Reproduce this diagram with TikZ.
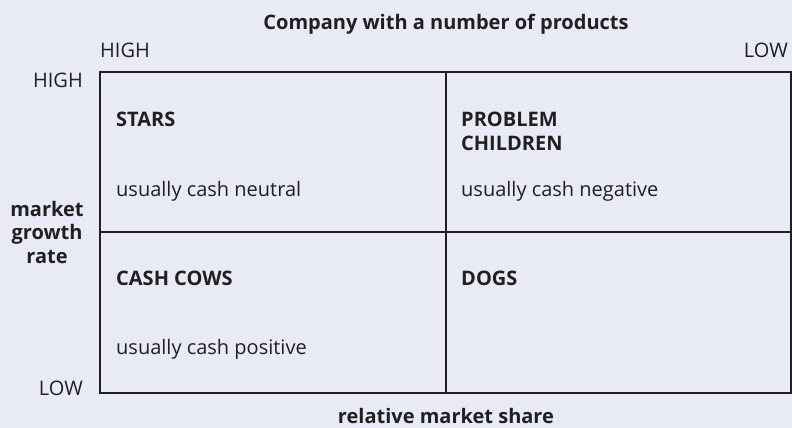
\documentclass[tikz,border=0pt]{standalone}
\usepackage{fontspec}
\setmainfont{Open Sans}
\usetikzlibrary{positioning}
\definecolor{bgcol}{HTML}{E8EAF6}
\definecolor{inkcol}{HTML}{231F20}
\tikzstyle{lbl}=[inner sep=0pt,text=inkcol,font=\fontsize{20}{23.5}\selectfont]
\tikzstyle{head}=[lbl,font=\fontsize{20}{23.5}\selectfont\bfseries]
\tikzstyle{cell}=[lbl,anchor=base west]
\tikzstyle{cellhead}=[head,anchor=base west,align=left]
\tikzstyle{gridline}=[draw=inkcol,line width=1.6pt]

\begin{document}
\begin{tikzpicture}[x=1pt,y=-1pt]
\fill[bgcol] (0,0) rectangle (792,428);
\useasboundingbox (0,0) rectangle (792,428);
% matrix frame
\coordinate (tl) at (100,72);
\coordinate (br) at (791,393);
\coordinate (tm) at (446,72);
\coordinate (bm) at (446,393);
\coordinate (lm) at (100,232);
\coordinate (rm) at (791,232);
\draw[gridline] (tl) rectangle (br);
\draw[gridline] (tm) -- (bm);
\draw[gridline] (lm) -- (rm);
% axis labels
\node[head,anchor=base] (title) at (446,30) {Company with a number of products};
\node[lbl,anchor=base west] (xhigh) at (100,57) {HIGH};
\node[lbl,anchor=base east] (xlow) at (788,57) {LOW};
\node[lbl,anchor=base east] (yhigh) at (83,87) {HIGH};
\node[lbl,anchor=base east] (ylow) at (83,395) {LOW};
\node[head,align=center,anchor=base] (ytitle) at (47,263) {market\\growth\\rate};
\node[head,anchor=base] (xtitle) at (446,423) {relative market share};
% quadrants
\node[cellhead] (stars) at (116,126) {STARS};
\node[cell] (starscash) at (116,196) {usually cash neutral};
\node[cellhead] (problem) at (461,150) {PROBLEM\\CHILDREN};
\node[cell] (problemcash) at (461,196) {usually cash negative};
\node[cellhead] (cows) at (116,285) {CASH COWS};
\node[cell] (cowscash) at (116,354) {usually cash positive};
\node[cellhead] (dogs) at (461,285) {DOGS};
\end{tikzpicture}
\end{document}
